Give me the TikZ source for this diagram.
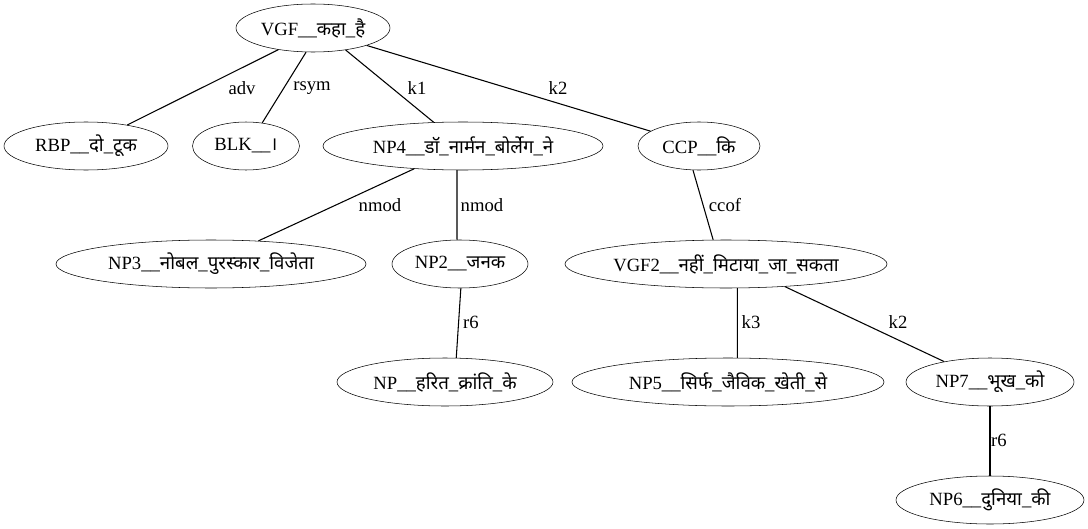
\documentclass[tikz,border=0pt]{standalone}
\usepackage{fontspec}
\setmainfont{Liberation Serif}
\newfontfamily\devfont[Script=Devanagari]{Noto Sans}
\newcommand\dv[1]{{\devfont #1}}
\usetikzlibrary{shapes.geometric}
\begin{document}
\begin{tikzpicture}[x=0.75pt,y=-0.75pt,
  font=\fontsize{14pt}{16pt}\selectfont,
  nd/.style={draw,ellipse,inner sep=0pt,minimum height=36pt,minimum width=#1},
  lbl/.style={inner sep=0pt},
  ln/.style={draw,line width=0.8pt}]
\useasboundingbox (0,0) rectangle (1088,528);
% nodes
\node[nd=115.5pt] (vgf) at (313,28) {VGF\_\_\dv{कहा}\_\dv{है}};
\node[nd=123pt] (rbp) at (86,146) {RBP\_\_\dv{दो}\_\dv{टूक}};
\node[nd=80.25pt] (blk) at (246,146) {BLK\_\_\dv{।}};
\node[nd=210pt] (np4) at (463,146) {NP4\_\_\dv{डॉ}\_\dv{नार्मन}\_\dv{बोर्लेग}\_\dv{ने}};
\node[nd=91.5pt] (ccp) at (699,146) {CCP\_\_\dv{कि}};
\node[nd=232.5pt] (np3) at (211,264) {NP3\_\_\dv{नोबल}\_\dv{पुरस्कार}\_\dv{विजेता}};
\node[nd=102pt] (np2) at (460,264) {NP2\_\_\dv{जनक}};
\node[nd=241.5pt] (vgf2) at (726,264) {VGF2\_\_\dv{नहीं}\_\dv{मिटाया}\_\dv{जा}\_\dv{सकता}};
\node[nd=162pt] (np) at (445,382) {NP\_\_\dv{हरित}\_\dv{क्रांति}\_\dv{के}};
\node[nd=234pt] (np5) at (728,382) {NP5\_\_\dv{सिर्फ}\_\dv{जैविक}\_\dv{खेती}\_\dv{से}};
\node[nd=126pt] (np7) at (990,382) {NP7\_\_\dv{भूख}\_\dv{को}};
\node[nd=141pt] (np6) at (990,500) {NP6\_\_\dv{दुनिया}\_\dv{की}};
% edges
\draw[ln] (vgf.212) -- (rbp.27);
\draw[ln] (vgf.254) -- (blk.55);
\draw[ln] (vgf.326) -- (np4.141);
\draw[ln] (vgf.342) -- (ccp.163);
\draw[ln] (np4.205) -- (np3.26);
\draw[ln] (np4.256) -- (np2.97);
\draw[ln] (ccp.256) -- (vgf2.118);
\draw[ln] (np2.272) -- (np.65);
\draw[ln] (vgf2.295) -- (np5.69);
\draw[ln] (vgf2.339) -- (np7.156);
\draw[ln] (np7.270) -- (np6.90);
% labels
\node[lbl] (l1) at (242,88) {adv};
\node[lbl] (l2) at (312,88) {rsym};
\node[lbl] (l3) at (417,88) {k1};
\node[lbl] (l4) at (558,88) {k2};
\node[lbl] (l5) at (380,205) {nmod};
\node[lbl] (l6) at (482,205) {nmod};
\node[lbl] (l7) at (725,205) {ccof};
\node[lbl] (l8) at (471,322) {r6};
\node[lbl] (l9) at (751,322) {k3};
\node[lbl] (l10) at (898,322) {k2};
\node[lbl] (l11) at (999,440) {r6};
\end{tikzpicture}
\end{document}
